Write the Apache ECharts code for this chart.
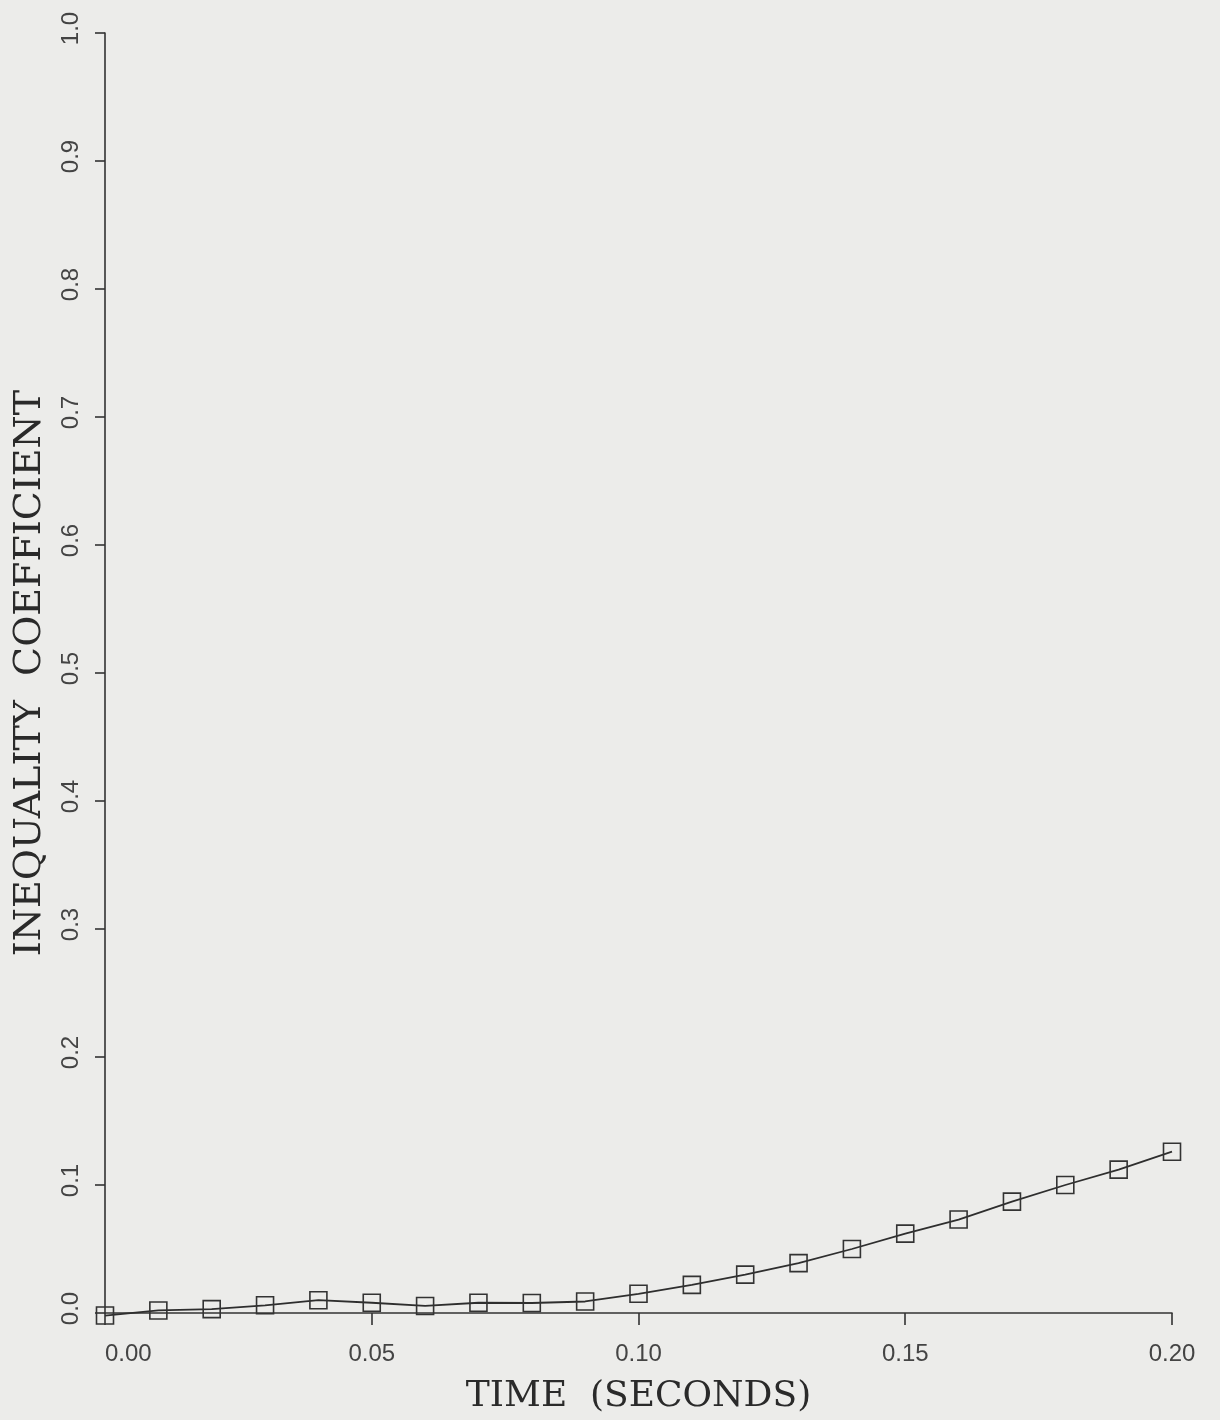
<!DOCTYPE html>
<html>
<head>
<meta charset="utf-8">
<script src="https://cdn.jsdelivr.net/npm/echarts@6/dist/echarts.min.js"></script>
<style>
html,body{margin:0;padding:0;background:#ececea;}
#chart{width:1220px;height:1420px;}
</style>
</head>
<body>
<div id="chart"></div>
<script>
// Time (seconds)
const timeValues = [0.00, 0.01, 0.02, 0.03, 0.04, 0.05, 0.06, 0.07, 0.08, 0.09, 0.10,
                    0.11, 0.12, 0.13, 0.14, 0.15, 0.16, 0.17, 0.18, 0.19, 0.20];
// Inequality coefficient
const coefValues = [-0.002, 0.002, 0.003, 0.006, 0.010, 0.008, 0.0055, 0.008, 0.0078, 0.009, 0.015,
                    0.022, 0.030, 0.039, 0.050, 0.062, 0.073, 0.087, 0.100, 0.112, 0.126];
const xTickLabels = ['0.00', '0.05', '0.10', '0.15', '0.20'];
const yTickLabels = ['0.0','0.1','0.2','0.3','0.4','0.5','0.6','0.7','0.8','0.9','1.0'];
const xTitle = 'TIME  (SECONDS)';
const yTitle = 'INEQUALITY  COEFFICIENT';

const points = timeValues.map((t, i) => [t, coefValues[i]]);

const chart = echarts.init(document.getElementById('chart'), null, {renderer: 'canvas'});
chart.setOption({
  backgroundColor: '#ececea',
  animation: false,
  grid: {left: 105, right: 48, top: 33, bottom: 107, containLabel: false},
  xAxis: {
    type: 'value', min: 0, max: 0.20, interval: 0.05,
    name: xTitle, nameLocation: 'middle', nameGap: 66,
    nameTextStyle: {fontFamily: 'DejaVu Serif', fontSize: 36, color: '#2a2a2a'},
    axisLine: {show: true, onZero: false, lineStyle: {color: '#333', width: 1.6}},
    axisTick: {show: true, inside: false, length: 12, lineStyle: {color: '#333', width: 1.6}},
    axisLabel: {
      margin: 29, fontFamily: 'Liberation Sans', fontSize: 24, color: '#444',
      alignMinLabel: 'left',
      formatter: v => xTickLabels[Math.round(v / 0.05)] ?? ''
    },
    splitLine: {show: false}
  },
  yAxis: {
    type: 'value', min: 0, max: 1.0, interval: 0.1,
    name: yTitle, nameLocation: 'middle', nameGap: 56, nameRotate: 90,
    nameTextStyle: {fontFamily: 'DejaVu Serif', fontSize: 38, color: '#2a2a2a'},
    axisLine: {show: true, onZero: false, lineStyle: {color: '#333', width: 1.6}},
    axisTick: {show: true, inside: false, length: 10, lineStyle: {color: '#333', width: 1.6}},
    axisLabel: {
      rotate: 90, margin: 22, fontFamily: 'Liberation Sans', fontSize: 24, color: '#444',
      padding: [0, 0, 0, 9],
      formatter: v => yTickLabels[Math.round(v / 0.1)] ?? ''
    },
    splitLine: {show: false}
  },
  series: [{
    type: 'line',
    data: points,
    clip: false,
    symbol: 'rect',
    symbolSize: 17,
    lineStyle: {color: '#2e2e2e', width: 1.8},
    itemStyle: {color: 'rgba(0,0,0,0)', borderColor: '#333', borderWidth: 1.6}
  }]
});
</script>
</body>
</html>
